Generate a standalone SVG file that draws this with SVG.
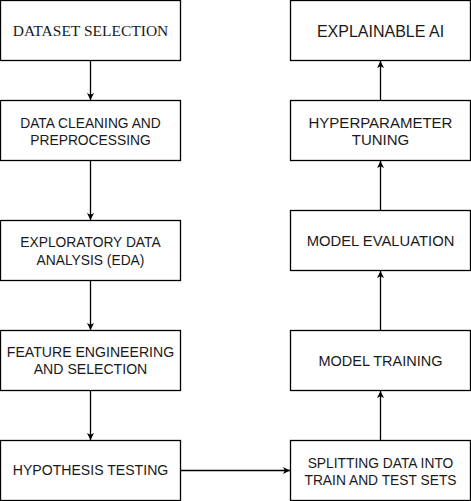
<svg xmlns="http://www.w3.org/2000/svg" width="471" height="501" viewBox="0 0 471 501">
<style>
.box{fill:#fff;stroke:#000;stroke-width:1.3}
.t{font-family:"Liberation Sans",Arial,sans-serif;font-size:13.8px;fill:#1a1a1a;text-anchor:middle}
.s{font-family:"Liberation Serif","Times New Roman",serif;font-size:15.5px;fill:#1a1a1a;text-anchor:middle}
.c{fill:none;stroke:#000;stroke-width:1.3}
</style>
<defs>
<marker id="ah" viewBox="0 0 10 10" refX="10" refY="5" markerWidth="7" markerHeight="7" markerUnits="userSpaceOnUse" orient="auto">
<path d="M0,0 L10,5 L0,10 L2.5,5 Z" fill="#000"/>
</marker>
</defs>
<rect width="471" height="501" fill="#fff"/>
<g id="connectors">
<line class="c" x1="90.5" y1="60.5" x2="90.5" y2="100" marker-end="url(#ah)"/>
<line class="c" x1="90.5" y1="160.5" x2="90.5" y2="220" marker-end="url(#ah)"/>
<line class="c" x1="90.5" y1="280.5" x2="90.5" y2="330" marker-end="url(#ah)"/>
<line class="c" x1="90.5" y1="390.5" x2="90.5" y2="440" marker-end="url(#ah)"/>
<line class="c" x1="180.5" y1="470.5" x2="290" y2="470.5" marker-end="url(#ah)"/>
<line class="c" x1="380.5" y1="440.5" x2="380.5" y2="391" marker-end="url(#ah)"/>
<line class="c" x1="380.5" y1="330.5" x2="380.5" y2="271" marker-end="url(#ah)"/>
<line class="c" x1="380.5" y1="210.5" x2="380.5" y2="161" marker-end="url(#ah)"/>
<line class="c" x1="380.5" y1="100.5" x2="380.5" y2="61" marker-end="url(#ah)"/>
</g>
<g id="dataset-selection"><rect class="box" x="0.5" y="0.5" width="180" height="60"/><text class="s" x="90.5" y="36">DATASET SELECTION</text></g>
<g id="data-cleaning"><rect class="box" x="0.5" y="100.5" width="180" height="60"/><text class="t" x="90.5" y="127.5">DATA CLEANING AND</text><text class="t" x="90.5" y="144.5">PREPROCESSING</text></g>
<g id="eda"><rect class="box" x="0.5" y="220.5" width="180" height="60"/><text class="t" x="90.5" y="247">EXPLORATORY DATA</text><text class="t" x="90.5" y="264.5">ANALYSIS (EDA)</text></g>
<g id="feature-engineering"><rect class="box" x="0.5" y="330.5" width="180" height="60"/><text class="t" x="90.5" y="356.5" style="font-size:14.1px">FEATURE ENGINEERING</text><text class="t" x="90.5" y="374" style="font-size:14.1px">AND SELECTION</text></g>
<g id="hypothesis-testing"><rect class="box" x="0.5" y="440.5" width="180" height="60"/><text class="t" x="90.5" y="475" style="font-size:14.1px">HYPOTHESIS TESTING</text></g>
<g id="explainable-ai"><rect class="box" x="290.5" y="0.5" width="180" height="60"/><text class="t" x="380.5" y="36.5" style="font-size:16px">EXPLAINABLE AI</text></g>
<g id="hyperparameter-tuning"><rect class="box" x="290.5" y="100.5" width="180" height="60"/><text class="t" x="380.5" y="127.5" style="font-size:15px">HYPERPARAMETER</text><text class="t" x="380.5" y="144.5" style="font-size:15px">TUNING</text></g>
<g id="model-evaluation"><rect class="box" x="290.5" y="210.5" width="180" height="60"/><text class="t" x="380.5" y="246.3" style="font-size:14.8px">MODEL EVALUATION</text></g>
<g id="model-training"><rect class="box" x="290.5" y="330.5" width="180" height="60"/><text class="t" x="380.5" y="366.2" style="font-size:14.5px">MODEL TRAINING</text></g>
<g id="splitting-data"><rect class="box" x="290.5" y="440.5" width="180" height="60"/><text class="t" x="380.5" y="468">SPLITTING DATA INTO</text><text class="t" x="380.5" y="485">TRAIN AND TEST SETS</text></g>
</svg>
